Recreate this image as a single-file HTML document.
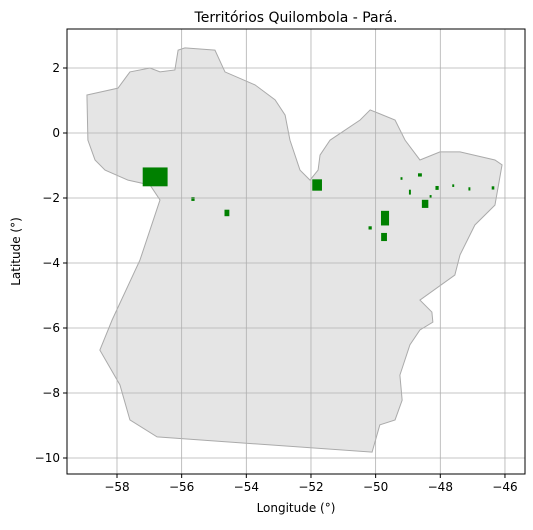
<!DOCTYPE html>
<html><head><meta charset="utf-8"><style>
body{margin:0;background:#fff;font-family:"Liberation Sans","DejaVu Sans",sans-serif}
svg text{font-family:"DejaVu Sans","Liberation Sans",sans-serif}
</style></head><body>
<svg id="c" width="533" height="525"></svg>
<script>
const xTicks=[-58,-56,-54,-52,-50,-48,-46];
const yTicks=[2,0,-2,-4,-6,-8,-10];
const outlineLon=[-58.93,-57.97,-57.6,-56.98,-56.67,-56.21,-56.11,-55.9,-54.97,-54.66,-53.73,-53.11,-52.8,-52.65,-52.34,-52.03,-51.78,-51.72,-51.41,-50.48,-50.17,-49.4,-49.09,-48.63,-48.01,-47.39,-46.31,-46.09,-46.31,-46.93,-47.39,-47.55,-48.63,-48.26,-48.23,-48.63,-48.94,-49.25,-49.18,-49.4,-49.87,-50.11,-56.76,-57.6,-57.91,-58.53,-58.15,-57.29,-56.67,-56.98,-57.66,-58.37,-58.68,-58.9];
const outlineLat=[1.17,1.38,1.88,2.0,1.88,1.94,2.55,2.62,2.55,1.88,1.48,1.02,0.55,-0.22,-1.14,-1.45,-1.14,-0.68,-0.22,0.4,0.71,0.4,-0.22,-0.83,-0.58,-0.58,-0.83,-0.98,-2.22,-2.83,-3.75,-4.37,-5.14,-5.51,-5.82,-6.06,-6.52,-7.45,-8.22,-8.83,-8.98,-9.82,-9.35,-8.83,-7.75,-6.68,-5.75,-3.91,-2.06,-1.6,-1.45,-1.14,-0.83,-0.22];
const terrLon=[-56.82,-51.81,-49.71,-49.74,-48.47,-48.63,-48.1,-48.94,-46.37,-54.6,-55.65,-50.17,-47.6,-47.1,-49.2,-48.3];
const terrLat=[-1.35,-1.6,-2.62,-3.2,-2.18,-1.29,-1.69,-1.82,-1.69,-2.46,-2.03,-2.92,-1.62,-1.72,-1.4,-1.95];
const terrW=[0.77,0.3,0.25,0.18,0.2,0.12,0.1,0.06,0.08,0.15,0.1,0.1,0.06,0.06,0.06,0.06];
const terrH=[0.58,0.35,0.45,0.25,0.25,0.1,0.12,0.15,0.1,0.2,0.12,0.1,0.08,0.1,0.08,0.08];
const L=67,R=525,T=29,B=474;
const sx=v=>117+(v+58)*32.33, sy=v=>133-v*32.5;
const s=document.getElementById('c'),NS='http://www.w3.org/2000/svg';
function mk(t,a,p){const e=document.createElementNS(NS,t);for(const k in a)e.setAttribute(k,a[k]);(p||s).appendChild(e);return e;}
const poly=mk('polygon',{points:outlineLon.map((v,i)=>sx(v)+','+sy(outlineLat[i])).join(' '),fill:'#e5e5e5',stroke:'#aaa','stroke-width':1});


terrLon.forEach((v,i)=>{const r=mk('rect',{x:sx(v-terrW[i]/2),y:sy(terrLat[i]+terrH[i]/2),width:terrW[i]*32.33,height:terrH[i]*32.5,fill:'#008000'});

});
xTicks.forEach(v=>{const x=sx(v);const g=mk('line',{x1:x,x2:x,y1:T,y2:B,stroke:'#b0b0b0','stroke-width':0.8});


mk('line',{x1:x,x2:x,y1:B,y2:B+4,stroke:'#000'});
const t=mk('text',{x:x,y:B+17,'text-anchor':'middle','font-size':12});t.textContent=(v<0?'\u2212'+(-v):v);

});
yTicks.forEach(v=>{const y=sy(v);const g=mk('line',{x1:L,x2:R,y1:y,y2:y,stroke:'#b0b0b0','stroke-width':0.8});


mk('line',{x1:L-4,x2:L,y1:y,y2:y,stroke:'#000'});
const t=mk('text',{x:L-7,y:y+4,'text-anchor':'end','font-size':12});t.textContent=(v<0?'\u2212'+(-v):v);

});
const fr=mk('rect',{x:L,y:T,width:R-L,height:B-T,fill:'none',stroke:'#000','stroke-width':1});


const ti=mk('text',{x:(L+R)/2,y:22,'text-anchor':'middle','font-size':14});ti.textContent='Territórios Quilombola - Pará.';


const xl=mk('text',{x:(L+R)/2,y:512,'text-anchor':'middle','font-size':12});xl.textContent='Longitude (°)';


const yl=mk('text',{x:20,y:(T+B)/2,'text-anchor':'middle','font-size':12,transform:`rotate(-90 20 ${(T+B)/2})`});yl.textContent='Latitude (°)';


</script>
</body></html>
